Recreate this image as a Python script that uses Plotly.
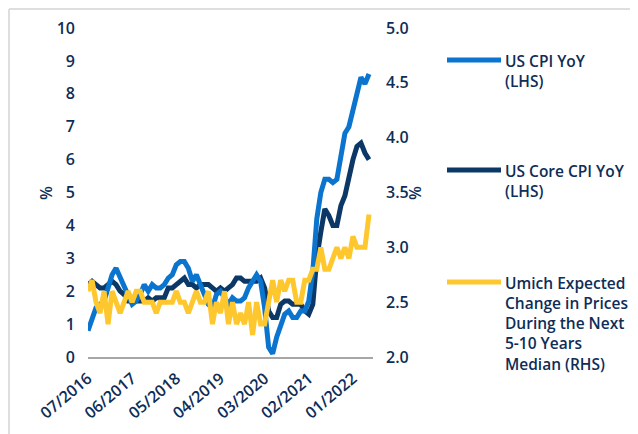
import pandas as pd
import plotly.graph_objects as go

months = [d.strftime("%m/%Y") for d in pd.date_range("2016-07-01", "2022-05-01", freq="MS")]

cpi_yoy = [0.8, 1.1, 1.5, 1.6, 1.7, 2.1,
           2.5, 2.7, 2.4, 2.2, 1.9, 1.6, 1.7, 1.9, 2.2, 2.0, 2.2, 2.1,
           2.1, 2.2, 2.4, 2.5, 2.8, 2.9, 2.9, 2.7, 2.3, 2.5, 2.2, 1.9,
           1.6, 1.5, 1.9, 2.0, 1.8, 1.6, 1.8, 1.7, 1.7, 1.8, 2.1, 2.3,
           2.5, 2.3, 1.5, 0.3, 0.1, 0.6, 1.0, 1.3, 1.4, 1.2, 1.2, 1.4,
           1.4, 1.7, 2.6, 4.2, 5.0, 5.4, 5.4, 5.3, 5.4, 6.2, 6.8, 7.0,
           7.5, 7.9, 8.5, 8.3, 8.6]

core_cpi_yoy = [2.2, 2.3, 2.2, 2.1, 2.1, 2.2,
                2.3, 2.2, 2.0, 1.9, 1.7, 1.7, 1.7, 1.7, 1.7, 1.8, 1.7, 1.8,
                1.8, 1.8, 2.1, 2.1, 2.2, 2.3, 2.4, 2.2, 2.2, 2.1, 2.2, 2.2,
                2.2, 2.1, 2.0, 2.1, 2.0, 2.1, 2.2, 2.4, 2.4, 2.3, 2.3, 2.3,
                2.3, 2.4, 2.1, 1.4, 1.2, 1.2, 1.6, 1.7, 1.7, 1.6, 1.6, 1.6,
                1.4, 1.3, 1.6, 3.0, 3.8, 4.5, 4.3, 4.0, 4.0, 4.6, 4.9, 5.5,
                6.0, 6.4, 6.5, 6.2, 6.0]

umich_5_10y = [2.6, 2.7, 2.5, 2.4, 2.6, 2.3,
               2.6, 2.5, 2.4, 2.5, 2.6, 2.5, 2.6, 2.6, 2.5, 2.5, 2.5, 2.4,
               2.5, 2.5, 2.5, 2.5, 2.6, 2.5, 2.5, 2.4, 2.5, 2.6, 2.5, 2.5,
               2.6, 2.3, 2.5, 2.4, 2.6, 2.3, 2.5, 2.3, 2.4, 2.3, 2.5, 2.2,
               2.5, 2.3, 2.3, 2.5, 2.7, 2.5, 2.7, 2.6, 2.7, 2.7, 2.5, 2.5,
               2.7, 2.7, 2.8, 2.8, 3.0, 2.8, 2.8, 2.9, 3.0, 2.9, 3.0, 2.9,
               3.1, 3.0, 3.0, 3.0, 3.3]

tick_labels = ["07/2016", "06/2017", "05/2018", "04/2019", "03/2020", "02/2021", "01/2022"]
left_ticks = [0, 1, 2, 3, 4, 5, 6, 7, 8, 9, 10]
right_ticks = [2.0, 2.5, 3.0, 3.5, 4.0, 4.5, 5.0]

names = ["US CPI YoY<br>(LHS)", "US Core CPI YoY<br>(LHS)",
         "Umich Expected<br>Change in Prices<br>During the Next<br>5-10 Years<br>Median (RHS)"]
colors = ["#0a74cf", "#0b3866", "#ffc72e"]

TXT = "#0e2d57"
FONT = dict(family="Open Sans", size=16, color=TXT, weight=600)
LEGFONT = dict(family="Open Sans", size=15.5, color=TXT, weight=600)

fig = go.Figure()
fig.add_trace(go.Scatter(x=months, y=core_cpi_yoy, mode="lines", name=names[1],
                         line=dict(color=colors[1], width=5), yaxis="y"))
fig.add_trace(go.Scatter(x=months, y=cpi_yoy, mode="lines", name=names[0],
                         line=dict(color=colors[0], width=5), yaxis="y"))
fig.add_trace(go.Scatter(x=months, y=umich_5_10y, mode="lines", name=names[2],
                         line=dict(color=colors[2], width=5), yaxis="y2"))

# page is offset by the 8px body margin; reference pixels are converted
OFF = 8
L, R, T, B = 88 - OFF, 373 - OFF, 28 - OFF, 357 - OFF
W, H = R - L, B - T
def px(x):
    return (x - OFF - L) / W
def py(y):
    return (B - (y - OFF)) / H

shapes = [
    dict(type="line", xref="paper", yref="paper", x0=px(9), x1=px(9), y0=py(9), y1=py(460),
         line=dict(color="#dedede", width=2)),
    dict(type="line", xref="paper", yref="paper", x0=px(9), x1=px(660), y0=py(9), y1=py(9),
         line=dict(color="#dedede", width=2)),
]
annotations = []
leg_y = [60, 170, 282]
leg_order = [0, 1, 2]
for i, yy in zip(leg_order, leg_y):
    shapes.append(dict(type="line", xref="paper", yref="paper", x0=px(447), x1=px(501),
                       y0=py(yy), y1=py(yy), line=dict(color=colors[i], width=5)))
    annotations.append(dict(xref="paper", yref="paper", x=px(503), y=py(yy), xanchor="left",
                            yanchor="top", yshift=12, text=names[i], showarrow=False,
                            align="left", font=LEGFONT))
annotations.append(dict(xref="paper", yref="paper", x=px(33), y=py(193), text="%", textangle=-90,
                        showarrow=False, font=FONT))
annotations.append(dict(xref="paper", yref="paper", x=px(428), y=py(193), text="%", textangle=-90,
                        showarrow=False, font=FONT))

fig.update_layout(
    width=638, height=434,
    margin=dict(l=L, r=638 - R, t=T, b=434 - B),
    paper_bgcolor="white", plot_bgcolor="white",
    showlegend=False,
    font=FONT,
    xaxis=dict(type="category", range=[0, 71], tickmode="array", tickvals=tick_labels,
               ticktext=tick_labels, tickangle=-40, showgrid=False, zeroline=False,
               showline=True, linecolor="#a6a6a6", linewidth=2, ticks="",
               ticklabelstandoff=4, tickfont=FONT, automargin=False),
    yaxis=dict(range=[0, 10], tickvals=left_ticks, showgrid=False, zeroline=False,
               showline=False, ticks="", ticklabelstandoff=12, tickfont=FONT, automargin=False),
    yaxis2=dict(range=[2, 5], tickvals=right_ticks, tickformat=".1f", overlaying="y",
                side="right", showgrid=False, zeroline=False, showline=False, ticks="",
                ticklabelstandoff=12, tickfont=FONT, automargin=False),
    shapes=shapes,
    annotations=annotations,
)

fig.write_html("out.html")
